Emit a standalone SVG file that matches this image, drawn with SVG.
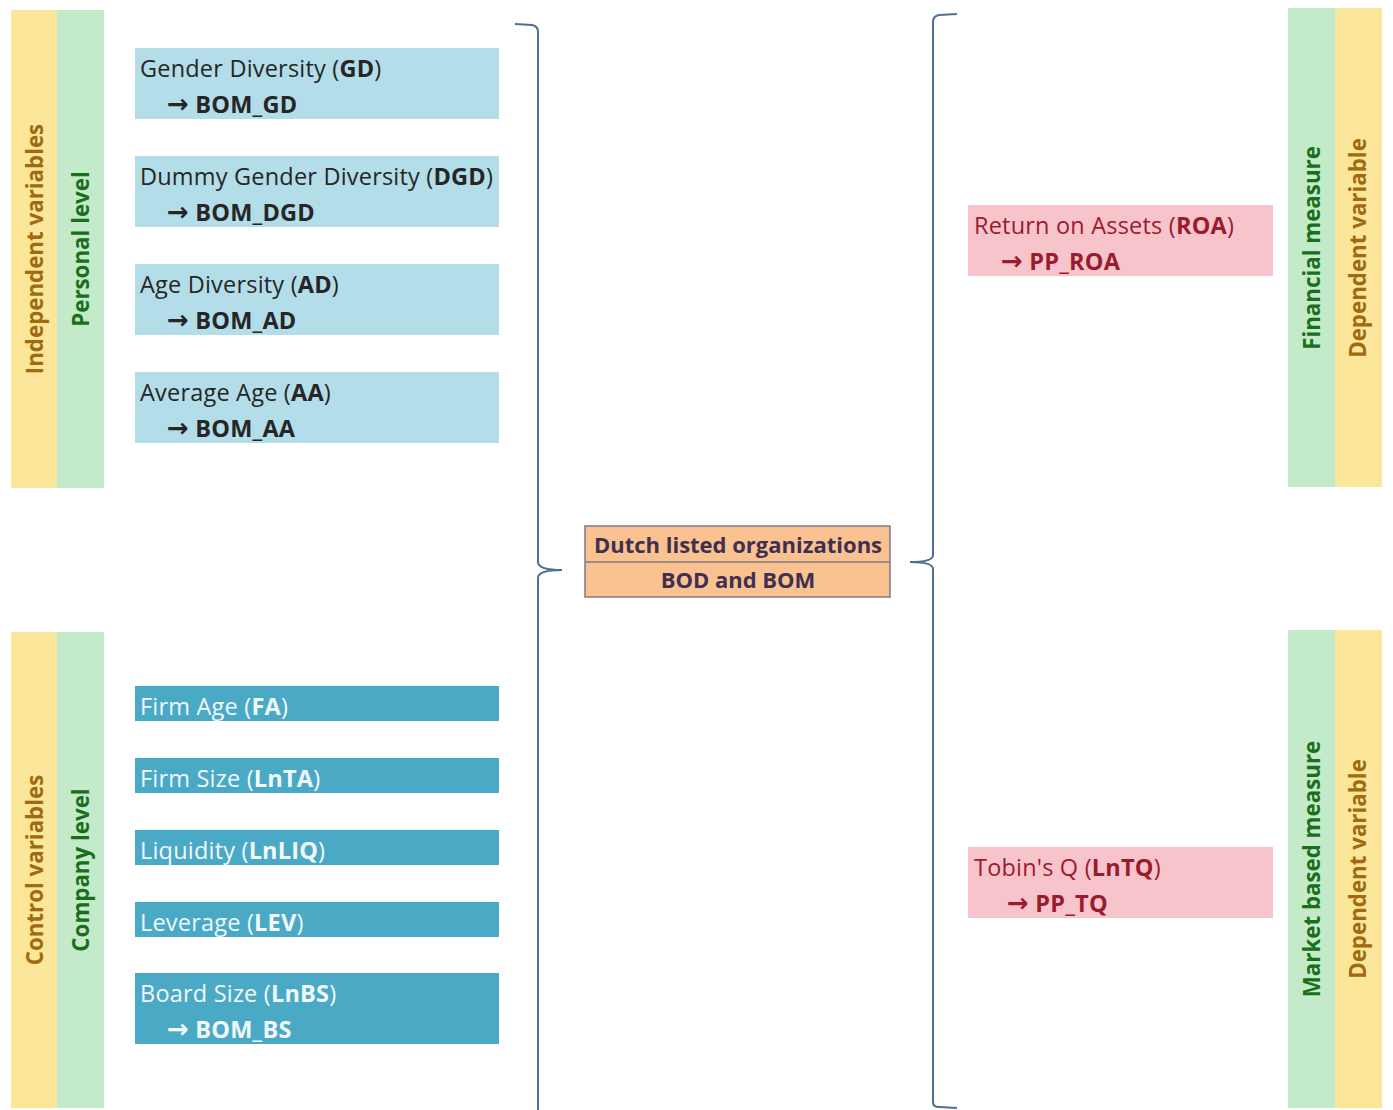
<svg xmlns="http://www.w3.org/2000/svg" width="1393" height="1110" viewBox="0 0 1393 1110">
<style>
text{font-family:"Open Sans","Noto Sans",sans-serif;}
.lb{fill:#b3dde8;}
.db{fill:#4aaac6;}
.pk{fill:#f8c4cc;}
.yl{fill:#fbe69a;}
.gr{fill:#c3ebc9;}
.t1{font-size:23.5px;fill:#262626;letter-spacing:0.2px;}
.t2{font-size:23.5px;fill:#f2f8fa;letter-spacing:0.2px;}
.t3{font-size:23.5px;fill:#9a1b2e;letter-spacing:0.2px;}
.tc{font-size:22px;fill:#3f3050;font-weight:bold;}
.vy{font-size:22.3px;font-weight:bold;fill:#a06a10;}
.vg{font-size:22.3px;font-weight:bold;fill:#1b6e1b;}
.b{font-weight:bold;}
.ar{font-family:"DejaVu Sans",sans-serif;font-weight:bold;font-size:26px;}
.br{fill:none;stroke:#4f6f97;stroke-width:2;}
</style>
<rect width="1393" height="1110" fill="#ffffff"/>

<g id="band-independent">
<rect class="yl" x="11" y="10" width="47" height="478"/>
<rect class="gr" x="57" y="10" width="47" height="478"/>
<text class="vy" transform="translate(43,249) rotate(-90)" text-anchor="middle">Independent variables</text>
<text class="vg" transform="translate(89,249) rotate(-90)" text-anchor="middle">Personal level</text>
</g>
<g id="band-control">
<rect class="yl" x="11" y="632" width="47" height="476"/>
<rect class="gr" x="57" y="632" width="47" height="476"/>
<text class="vy" transform="translate(43,870) rotate(-90)" text-anchor="middle">Control variables</text>
<text class="vg" transform="translate(89,870) rotate(-90)" text-anchor="middle">Company level</text>
</g>
<g id="band-financial">
<rect class="gr" x="1288" y="8" width="47" height="479"/>
<rect class="yl" x="1335" y="8" width="47" height="479"/>
<text class="vg" transform="translate(1320,248) rotate(-90)" text-anchor="middle">Financial measure</text>
<text class="vy" transform="translate(1366,248) rotate(-90)" text-anchor="middle">Dependent variable</text>
</g>
<g id="band-market">
<rect class="gr" x="1288" y="630" width="47" height="478"/>
<rect class="yl" x="1335" y="630" width="47" height="478"/>
<text class="vg" transform="translate(1320,869) rotate(-90)" text-anchor="middle">Market based measure</text>
<text class="vy" transform="translate(1366,869) rotate(-90)" text-anchor="middle">Dependent variable</text>
</g>

<g id="node-gd">
<rect class="lb" x="135" y="48" width="364" height="71"/>
<text class="t1" x="140" y="77">Gender Diversity (<tspan class="b">GD</tspan>)</text>
<text class="t1 b" x="167" y="113"><tspan class="ar">→</tspan> BOM_GD</text>
</g>
<g id="node-dgd">
<rect class="lb" x="135" y="156" width="364" height="71"/>
<text class="t1" x="140" y="185">Dummy Gender Diversity (<tspan class="b">DGD</tspan>)</text>
<text class="t1 b" x="167" y="221"><tspan class="ar">→</tspan> BOM_DGD</text>
</g>
<g id="node-ad">
<rect class="lb" x="135" y="264" width="364" height="71"/>
<text class="t1" x="140" y="293">Age Diversity (<tspan class="b">AD</tspan>)</text>
<text class="t1 b" x="167" y="329"><tspan class="ar">→</tspan> BOM_AD</text>
</g>
<g id="node-aa">
<rect class="lb" x="135" y="372" width="364" height="71"/>
<text class="t1" x="140" y="401">Average Age (<tspan class="b">AA</tspan>)</text>
<text class="t1 b" x="167" y="437"><tspan class="ar">→</tspan> BOM_AA</text>
</g>

<g id="node-fa">
<rect class="db" x="135" y="686" width="364" height="35"/>
<text class="t2" x="140" y="715">Firm Age (<tspan class="b">FA</tspan>)</text>
</g>
<g id="node-lnta">
<rect class="db" x="135" y="758" width="364" height="35"/>
<text class="t2" x="140" y="787">Firm Size (<tspan class="b">LnTA</tspan>)</text>
</g>
<g id="node-lnliq">
<rect class="db" x="135" y="830" width="364" height="35"/>
<text class="t2" x="140" y="859">Liquidity (<tspan class="b">LnLIQ</tspan>)</text>
</g>
<g id="node-lev">
<rect class="db" x="135" y="902" width="364" height="35"/>
<text class="t2" x="140" y="931">Leverage (<tspan class="b">LEV</tspan>)</text>
</g>
<g id="node-lnbs">
<rect class="db" x="135" y="973" width="364" height="71"/>
<text class="t2" x="140" y="1002">Board Size (<tspan class="b">LnBS</tspan>)</text>
<text class="t2 b" x="167" y="1038"><tspan class="ar">→</tspan> BOM_BS</text>
</g>

<g id="node-center">
<rect x="585" y="526" width="305" height="71" fill="#fac191" stroke="#7f7a80" stroke-width="1.5"/>
<line x1="585" y1="562" x2="890" y2="562" stroke="#7f7a80" stroke-width="1.5"/>
<text class="tc" x="738" y="553" text-anchor="middle">Dutch listed organizations</text>
<text class="tc" x="738" y="588" text-anchor="middle">BOD and BOM</text>
</g>

<g id="node-roa">
<rect class="pk" x="968" y="205" width="305" height="71"/>
<text class="t3" x="974" y="234">Return on Assets (<tspan class="b">ROA</tspan>)</text>
<text class="t3 b" x="1001" y="270"><tspan class="ar">→</tspan> PP_ROA</text>
</g>
<g id="node-tq">
<rect class="pk" x="968" y="847" width="305" height="71"/>
<text class="t3" x="974" y="876">Tobin's Q (<tspan class="b">LnTQ</tspan>)</text>
<text class="t3 b" x="1007" y="912"><tspan class="ar">→</tspan> PP_TQ</text>
</g>

<g id="connectors">
<path class="br" d="M515,24 L532,25 Q538,26 538,32 L538,562 Q538,570 562,570 Q538,570 538,578 L538,1110"/>
<path class="br" d="M957,14 L939,15 Q933,16 933,22 L933,555 Q933,562 910,562 Q933,562 933,569 L933,1102 Q933,1107 939,1107 L957,1108"/>
</g>
</svg>
